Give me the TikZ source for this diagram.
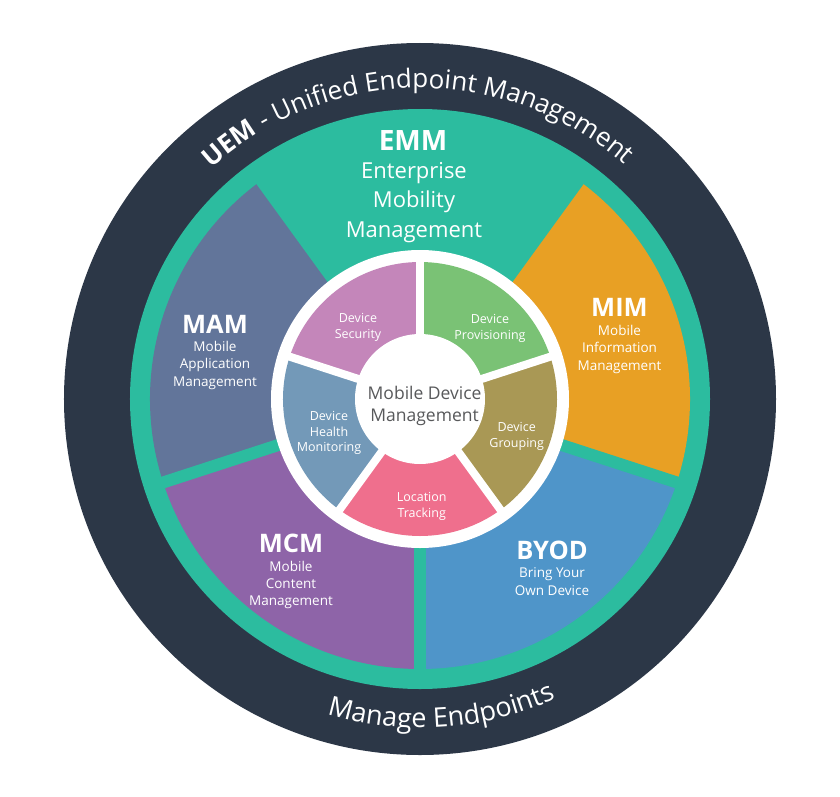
\documentclass[tikz,border=0pt]{standalone}
\usepackage{fontspec}
\setmainfont{Open Sans}
\usetikzlibrary{decorations.text}
\definecolor{darkring}{HTML}{2C3747}
\definecolor{tealring}{HTML}{2CBC9F}
\definecolor{mamc}{HTML}{62759A}
\definecolor{mcmc}{HTML}{8E64A8}
\definecolor{byodc}{HTML}{4F95C9}
\definecolor{mimc}{HTML}{E8A024}
\definecolor{secc}{HTML}{C486BA}
\definecolor{provc}{HTML}{7AC275}
\definecolor{grpc}{HTML}{A99855}
\definecolor{locc}{HTML}{EF6F8D}
\definecolor{hltc}{HTML}{7399B8}
\definecolor{mdmtext}{HTML}{58595B}
\tikzset{
  ttl/.style={text=white, anchor=base, inner sep=0pt, font=\bfseries\fontsize{25.5}{28}\selectfont},
  subtxt/.style={text=white, anchor=base, align=center, inner sep=0pt, font=\fontsize{13.5}{17.2}\selectfont},
  innertxt/.style={text=white, anchor=base, align=center, inner sep=0pt, font=\fontsize{12.5}{15.5}\selectfont},
  emmsub/.style={text=white, anchor=base, align=center, inner sep=0pt, font=\fontsize{22}{29.5}\selectfont},
}
\begin{document}
\begin{tikzpicture}[x=1pt,y=1pt]
\useasboundingbox (-420,-397) rectangle (420,399);
\fill[white] (-420,-397) rectangle (420,399);
% rings
\fill[darkring] (0,0) circle[radius=356];
\fill[tealring] (0,0) circle[radius=290];
% outer segments
\fill[mamc] (0,0) -- (126:270) arc[start angle=126, end angle=198, radius=270] -- cycle;
\fill[mcmc] (0,0) -- (198:270) arc[start angle=198, end angle=270, radius=270] -- cycle;
\fill[byodc] (0,0) -- (270:270) arc[start angle=270, end angle=342, radius=270] -- cycle;
\fill[mimc] (0,0) -- (-18:270) arc[start angle=-18, end angle=54, radius=270] -- cycle;
\foreach \a in {54,126,198,270,342}
  \draw[tealring, line width=12pt] (0,0) -- (\a:282);
% inner part
\fill[white] (0,0) circle[radius=149];
\fill[provc] (0,0) -- (18:137) arc[start angle=18, end angle=90, radius=137] -- cycle;
\fill[secc] (0,0) -- (90:137) arc[start angle=90, end angle=162, radius=137] -- cycle;
\fill[hltc] (0,0) -- (162:137) arc[start angle=162, end angle=234, radius=137] -- cycle;
\fill[locc] (0,0) -- (234:137) arc[start angle=234, end angle=306, radius=137] -- cycle;
\fill[grpc] (0,0) -- (306:137) arc[start angle=306, end angle=378, radius=137] -- cycle;
\foreach \a in {18,90,162,234,306}
  \draw[white, line width=8pt] (0,0) -- (\a:142);
\fill[white] (0,0) circle[radius=65];
% curved texts
\path[decorate, decoration={text along path, text align=center, text color=white,
  text={|\fontsize{26}{30}\selectfont\bfseries|UEM|\fontsize{26}{30}\selectfont\mdseries| - Unified Endpoint Management}}]
  (140:311) arc[start angle=140, end angle=41, radius=311];
\path[decorate, decoration={text along path, text align=center, text color=white,
  text={|\fontsize{27}{30}\selectfont|Manage Endpoints}}]
  (-111:329) arc[start angle=-111, end angle=-61, radius=329];
% outer labels
\node[ttl, font=\bfseries\fontsize{28}{30}\selectfont] (emmT) at (-7,249) {EMM};
\node[emmsub] (emmS) at (-6,162) {Enterprise\\Mobility\\Management};
\node[ttl] (mamT) at (-205,66) {MAM};
\node[subtxt] (mamS) at (-205,13) {Mobile\\Application\\Management};
\node[ttl] (mimT) at (199.5,82.3) {MIM};
\node[subtxt] (mimS) at (199.5,29) {Mobile\\Information\\Management};
\node[ttl] (mcmT) at (-129,-153.7) {MCM};
\node[subtxt] (mcmS) at (-129,-206.7) {Mobile\\Content\\Management};
\node[ttl] (byodT) at (132,-160) {BYOD};
\node[subtxt, font=\fontsize{13.5}{18.7}\selectfont] (byodS) at (132,-196.7) {Bring Your\\Own Device};
% inner labels
\node[innertxt] (sec) at (-62,60.7) {Device\\Security};
\node[innertxt] (prov) at (70,60) {Device\\Provisioning};
\node[innertxt] (hlt) at (-91,-52.7) {Device\\Health\\Monitoring};
\node[innertxt] (grp) at (96.7,-48.3) {Device\\Grouping};
\node[innertxt, font=\fontsize{12.5}{16}\selectfont] (loc) at (1.7,-118.7) {Location\\Tracking};
\node[anchor=base, align=center, inner sep=0pt, text=mdmtext, font=\fontsize{17.5}{22}\selectfont] (mdm) at (4.6,-22) {Mobile Device\\Management};
\end{tikzpicture}
\end{document}
